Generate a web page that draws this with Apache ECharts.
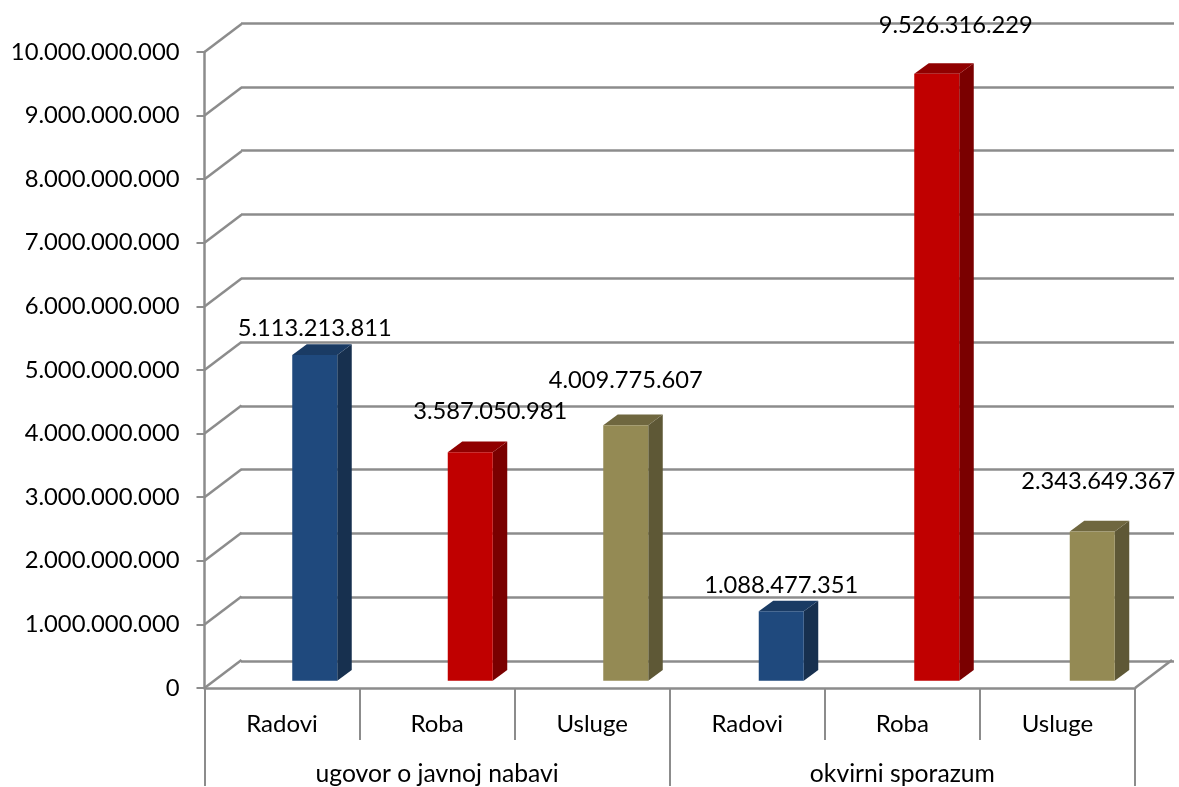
<!DOCTYPE html>
<html>
<head>
<meta charset="utf-8">
<style>html,body{margin:0;padding:0;background:#fff}#chart{width:1179px;height:787px}</style>
<script src="https://cdn.jsdelivr.net/npm/echarts@6/dist/echarts.min.js"></script>
</head>
<body>
<div id="chart"></div>
<script>
var categories = ['Radovi', 'Roba', 'Usluge', 'Radovi', 'Roba', 'Usluge'];
var groups = ['ugovor o javnoj nabavi', 'okvirni sporazum'];
var values = [5113213811, 3587050981, 4009775607, 1088477351, 9526316229, 2343649367];
var yTicks = [0, 1e9, 2e9, 3e9, 4e9, 5e9, 6e9, 7e9, 8e9, 9e9, 1e10];

// excel 3d look
var faceColors = ['#1F497D', '#C00000', '#948A54', '#1F497D', '#C00000', '#948A54'];
var sideColors = ['#17304F', '#7A0000', '#5E5836', '#17304F', '#7A0000', '#5E5836'];
var topColors = ['#1A3B64', '#900000', '#6F673F', '#1A3B64', '#900000', '#6F673F'];
// labels were moved by hand in the original
var labelShift = [[0, -27], [20, -41], [0, -45], [0, -26], [19, -49], [6, -50]];

var gridColor = '#8C8C8C';
var font = 'Lato';
var wallX = 37, wallY = -28;
var barX = 14.5, barY = -10.7, barW = 45;

function dots(v) {
    return String(v).replace(/\B(?=(\d{3})+$)/g, '.');
}

function hiddenX(index, data) {
    return {type: 'category', gridIndex: index, data: data, show: false};
}

function hiddenY(index) {
    return {type: 'value', gridIndex: index, min: 0, max: 1e10, interval: 1e9, show: false};
}

var chart = echarts.init(document.getElementById('chart'), null, {renderer: 'canvas'});

chart.setOption({
    animation: false,
    backgroundColor: '#fff',
    grid: [
        {left: 204.5, right: 44, top: 52, bottom: 98},     // front plane, carries the axes
        {left: 241, right: 5, top: 23, bottom: 126},       // back wall
        {left: 237, width: 933, top: 43.7, bottom: 106.3}  // plane the bars stand on
    ],
    xAxis: [
        {
            type: 'category',
            gridIndex: 0,
            data: categories,
            axisLine: {lineStyle: {color: gridColor, width: 2.5}},
            axisTick: {show: true, length: 52, interval: 0, lineStyle: {color: gridColor, width: 2}},
            axisLabel: {interval: 0, margin: 24, color: '#000', fontFamily: font, fontSize: 24}
        },
        {
            type: 'category',
            gridIndex: 0,
            position: 'bottom',
            data: groups,
            axisLine: {show: false},
            axisTick: {show: true, length: 98, interval: 0, lineStyle: {color: gridColor, width: 2}},
            axisLabel: {interval: 0, margin: 74, color: '#000', fontFamily: font, fontSize: 24.7}
        },
        hiddenX(1, categories),
        hiddenX(2, categories)
    ],
    yAxis: [
        {
            type: 'value',
            gridIndex: 0,
            min: 0,
            max: 1e10,
            interval: 1e9,
            axisLine: {show: true, lineStyle: {color: gridColor, width: 2.5}},
            axisTick: {show: true, length: 8, lineStyle: {color: gridColor, width: 2}},
            splitLine: {show: false},
            axisLabel: {
                margin: 25,
                color: '#000',
                fontFamily: font,
                fontSize: 23.8,
                padding: [5, 0, 0, 0],
                formatter: dots
            }
        },
        {
            type: 'value',
            gridIndex: 1,
            min: 0,
            max: 1e10,
            interval: 1e9,
            axisLine: {show: false},
            axisTick: {show: false},
            axisLabel: {show: false},
            splitLine: {show: true, lineStyle: {color: gridColor, width: 2.5, type: 'solid'}}
        },
        hiddenY(2)
    ],
    series: [
        {
            // slanted lines from the front plane to the back wall
            type: 'custom',
            xAxisIndex: 0,
            yAxisIndex: 0,
            silent: true,
            clip: false,
            z: 2,
            data: yTicks.map(function(v) { return [0, v]; }).concat([[5, 0]]),
            renderItem: function(params, api) {
                var p = api.coord([api.value(0), api.value(1)]);
                var half = api.size([1, 0])[0] / 2;
                var x = api.value(0) === 0 ? p[0] - half : p[0] + half;
                return {
                    type: 'line',
                    shape: {x1: x, y1: p[1], x2: x + wallX, y2: p[1] + wallY},
                    style: {stroke: gridColor, lineWidth: 2.5}
                };
            }
        },
        {
            type: 'custom',
            xAxisIndex: 3,
            yAxisIndex: 2,
            silent: true,
            clip: false,
            z: 3,
            data: values.map(function(v, i) { return [i, v]; }),
            renderItem: function(params, api) {
                var i = api.value(0);
                var top = api.coord([i, api.value(1)]);
                var base = api.coord([i, 0]);
                var l = top[0] - barW / 2;
                var r = top[0] + barW / 2;
                return {
                    type: 'group',
                    children: [
                        {
                            type: 'polygon',
                            shape: {points: [[r, top[1]], [r + barX, top[1] + barY], [r + barX, base[1] + barY], [r, base[1]]]},
                            style: {fill: sideColors[i]}
                        },
                        {
                            type: 'polygon',
                            shape: {points: [[l, top[1]], [l + barX, top[1] + barY], [r + barX, top[1] + barY], [r, top[1]]]},
                            style: {fill: topColors[i]}
                        },
                        {
                            type: 'rect',
                            shape: {x: l, y: top[1], width: barW, height: base[1] - top[1]},
                            style: {fill: faceColors[i]}
                        },
                        {
                            type: 'text',
                            z2: 10,
                            style: {
                                x: top[0] + labelShift[i][0],
                                y: top[1] + labelShift[i][1],
                                text: dots(api.value(1)),
                                fill: '#000',
                                font: '23.7px ' + font,
                                align: 'center',
                                verticalAlign: 'middle'
                            }
                        }
                    ]
                };
            }
        }
    ]
});
</script>
</body>
</html>
